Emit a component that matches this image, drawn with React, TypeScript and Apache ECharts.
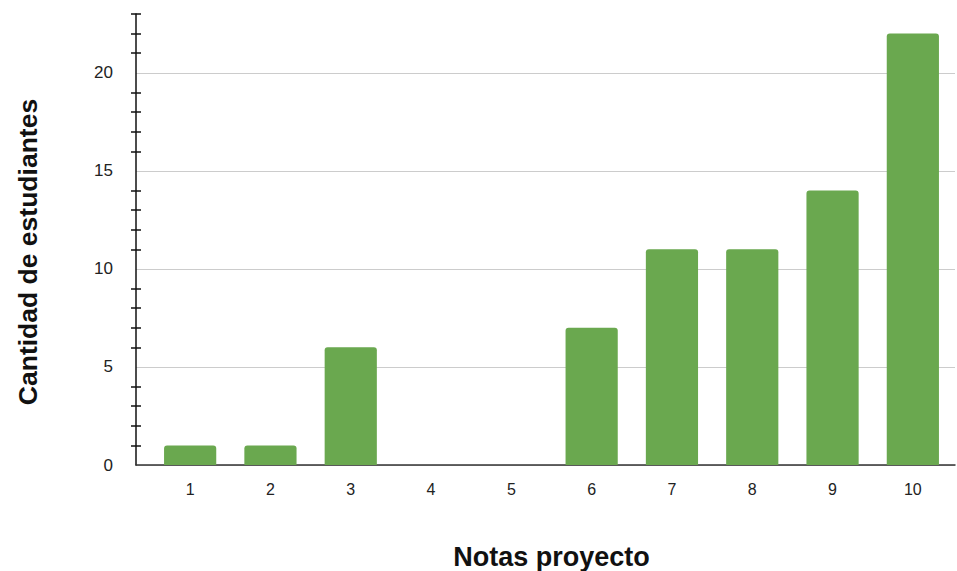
import React, { useEffect, useRef } from "react";
import * as echarts from "echarts";

// Grades 1..10 and how many students got each one
const notas: string[] = ["1", "2", "3", "4", "5", "6", "7", "8", "9", "10"];
const estudiantes: number[] = [1, 1, 6, 0, 0, 7, 11, 11, 14, 22];

// Value axis range, labelled steps and the small unit ticks on the axis
const yMax = 23;
const yStep = 5;
const yLabelValues: number[] = [0, 5, 10, 15, 20];
const yTickValues: number[] = [1, 2, 3, 4, 6, 7, 8, 9, 11, 12, 13, 14, 16, 17, 18, 19, 21, 22, 23];

const FONT = "'Liberation Sans', Arial, Helvetica, sans-serif";
const BAR_GREEN = "#6aa84f";
const INK = "#111111";

export default function App() {
  const ref = useRef<HTMLDivElement>(null);

  useEffect(() => {
    if (!ref.current) return;
    const chart = echarts.init(ref.current, undefined, { renderer: "svg" });

    const gridTop = 14;
    const gridBottom = 106;

    // shared range for every value axis drawn on the left
    const yRange = { type: "value", min: 0, max: yMax, interval: yStep, position: "left", offset: 0 };

    chart.setOption({
      animation: false,
      backgroundColor: "#ffffff",
      textStyle: { fontFamily: FONT },
      grid: [
        // plot area holding the bars
        { left: 150, right: 4, top: gridTop, bottom: gridBottom, containLabel: false, outerBoundsMode: "none" },
        // frame area holding the axis lines, ticks and grid lines
        { left: 136, right: 2, top: gridTop, bottom: gridBottom, containLabel: false, outerBoundsMode: "none" },
      ],
      xAxis: [
        {
          gridIndex: 0,
          type: "category",
          data: notas,
          axisLine: { show: false },
          axisTick: { show: false },
          splitLine: { show: false },
          axisLabel: { fontSize: 16, color: "#222222", margin: 16, fontFamily: FONT },
          name: "Notas proyecto",
          nameLocation: "middle",
          nameGap: 78,
          nameTextStyle: { fontSize: 27, fontWeight: "bold", color: INK, fontFamily: FONT },
        },
        {
          gridIndex: 1,
          type: "value",
          min: 0,
          max: 1,
          axisLine: { show: true, lineStyle: { color: "#333333", width: 1.5 } },
          axisTick: { show: false },
          axisLabel: { show: false },
          splitLine: { show: false },
        },
      ],
      yAxis: [
        { gridIndex: 0, type: "value", min: 0, max: yMax, show: false },
        // axis line, outer half of the unit ticks and the labels
        {
          ...yRange,
          gridIndex: 1,
          axisLine: { show: true, lineStyle: { color: INK, width: 1.5 } },
          axisTick: {
            show: true,
            customValues: yTickValues,
            length: 5,
            lineStyle: { color: INK, width: 1.5 },
          },
          axisLabel: {
            customValues: yLabelValues,
            fontSize: 17,
            color: "#222222",
            margin: 23,
            fontFamily: FONT,
          },
          splitLine: { show: false },
        },
        // inner half of the unit ticks
        {
          ...yRange,
          gridIndex: 1,
          axisLine: { show: false },
          axisTick: {
            show: true,
            inside: true,
            customValues: yTickValues,
            length: 5,
            lineStyle: { color: INK, width: 1.5 },
          },
          axisLabel: { show: false },
          splitLine: { show: false },
        },
        // horizontal grid lines every 5 students
        {
          ...yRange,
          gridIndex: 1,
          axisLine: { show: false },
          axisTick: { show: false },
          axisLabel: { show: false },
          splitLine: {
            show: true,
            lineStyle: {
              color: ["#cccccc", "#cccccc", "#cccccc", "#cccccc", "#cccccc", "transparent"],
              width: 1,
            },
          },
        },
      ],
      graphic: [
        {
          type: "text",
          x: 28,
          y: 252,
          rotation: Math.PI / 2,
          style: {
            text: "Cantidad de estudiantes",
            fontSize: 26.5,
            fontWeight: "bold",
            fill: INK,
            fontFamily: FONT,
            align: "center",
            verticalAlign: "middle",
          },
        },
      ],
      series: [
        {
          type: "bar",
          xAxisIndex: 0,
          yAxisIndex: 0,
          data: estudiantes,
          barWidth: "65%",
          itemStyle: { color: BAR_GREEN, borderRadius: [3, 3, 0, 0] },
        },
      ],
    });

    return () => chart.dispose();
  }, []);

  return <div ref={ref} style={{ width: 957, height: 571, position: "absolute", left: 0, top: 0 }} />;
}
